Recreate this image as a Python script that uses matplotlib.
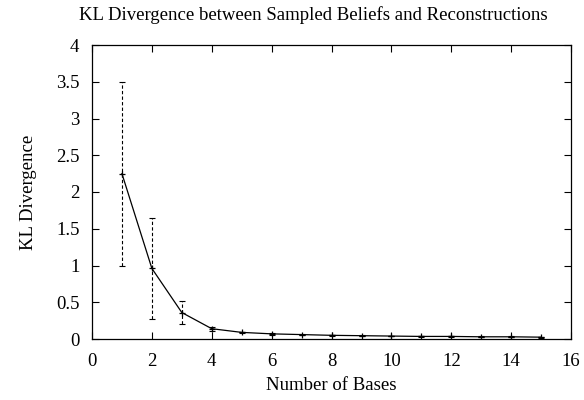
import numpy as np
import matplotlib
matplotlib.use("Agg")
import matplotlib.pyplot as plt

plt.rcParams['font.family'] = ['Liberation Serif', 'DejaVu Serif']

# data
bases = [1, 2, 3, 4, 5, 6, 7, 8, 9, 10, 11, 12, 13, 14, 15]
kl_mean = [2.25, 0.96, 0.36, 0.14, 0.09, 0.07, 0.06, 0.05, 0.045, 0.04, 0.035, 0.035, 0.03, 0.03, 0.025]
kl_err = [1.25, 0.69, 0.16, 0.03, 0.01, 0.01, 0.005, 0.005, 0.005, 0.005, 0.005, 0.005, 0.005, 0.005, 0.005]

fs = 13.5
fig = plt.figure(figsize=(5.84, 4.0), dpi=100)
ax = fig.add_axes([0.1575, 0.1525, 0.8205, 0.735])

# error bars (dashed) with caps
eb = ax.errorbar(bases, kl_mean, yerr=kl_err, fmt='none', ecolor='black',
                 elinewidth=0.8, capsize=2.5, capthick=0.8)
eb[2][0].set_linestyle((0, (3, 2)))

ax.plot(bases, kl_mean, color='black', lw=0.9, marker='+', ms=5, mew=0.9)

ax.set_xlim(0, 16)
ax.set_ylim(0, 4)
ax.set_xticks(range(0, 17, 2))
ax.set_yticks([0, 0.5, 1, 1.5, 2, 2.5, 3, 3.5, 4])
ax.set_yticklabels(['0', '0.5', '1', '1.5', '2', '2.5', '3', '3.5', '4'])
ax.tick_params(direction='in', top=True, right=True, length=5, width=0.8, labelsize=fs)
ax.tick_params(axis='x', pad=10)
ax.tick_params(axis='y', pad=9)
for s in ax.spines.values():
    s.set_linewidth(0.9)

ax.set_xlabel('Number of Bases', fontsize=fs, labelpad=5)
ax.set_ylabel('KL Divergence', fontsize=fs, labelpad=14)
fig.text(313 / 584, 1 - 15 / 400, 'KL Divergence between Sampled Beliefs and Reconstructions',
         fontsize=fs, ha='center', va='center')

fig.savefig('out.png', dpi=100)
